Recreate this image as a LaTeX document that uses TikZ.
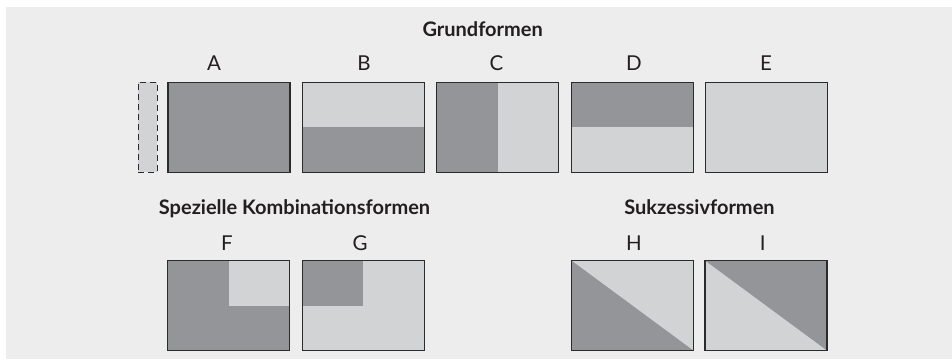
\documentclass[tikz,border=0pt]{standalone}
\usepackage{fontspec}
\setmainfont{Lato}
\definecolor{dk}{HTML}{939598}
\definecolor{lt}{HTML}{D1D3D4}
\definecolor{bg}{HTML}{EDEDED}
\definecolor{ln}{HTML}{2B2B2B}
\definecolor{tx}{HTML}{231F20}
\begin{document}
\begin{tikzpicture}[x=1pt,y=-1pt,
  box/.style={draw=ln, line width=1.3pt, minimum width=122pt, minimum height=90pt, inner sep=0pt, outer sep=0pt},
  lbl/.style={font=\fontsize{20.5}{24}\selectfont, anchor=base, text=tx, inner sep=0pt},
  ttl/.style={font=\bfseries\fontsize{20}{24}\selectfont, anchor=base, text=tx, inner sep=0pt},
  pp/.style={path picture={#1}}]
\useasboundingbox (0,0) rectangle (952,359);
\fill[white] (0,0) rectangle (952,359);
\fill[bg] (6,7) rectangle (952,359);
% titles
\node[ttl] (t1) at (482.7,36) {Grundformen};
\node[ttl] (t2) at (294.5,214) {Spezielle Kombinationsformen};
\node[ttl] (t3) at (699.5,214) {Sukzessivformen};
% top row
\node[box, minimum width=19pt, fill=lt, dash pattern=on 6pt off 4pt] (S) at (147.8,127.4) {};
\node[box, fill=dk] (A) at (228.9,127.4) {};
\node[box, fill=lt, pp={\fill[dk] (path picture bounding box.west) rectangle (path picture bounding box.south east);}] (B) at (363.5,127.4) {};
\node[box, fill=lt, pp={\fill[dk] (path picture bounding box.north west) rectangle (path picture bounding box.south);}] (C) at (497.5,127.4) {};
\node[box, fill=lt, pp={\fill[dk] (path picture bounding box.north west) rectangle (path picture bounding box.east);}] (D) at (632.5,127.4) {};
\node[box, fill=lt] (E) at (766.2,127.4) {};
\node[lbl] (lA) at (214,70.7) {A};
\node[lbl] (lB) at (364,70.7) {B};
\node[lbl] (lC) at (496.5,70.7) {C};
\node[lbl] (lD) at (634,70.7) {D};
\node[lbl] (lE) at (766,70.7) {E};
% bottom row
\node[box, fill=dk, pp={\fill[lt] (path picture bounding box.north) rectangle (path picture bounding box.east);}] (F) at (228.7,305.5) {};
\node[box, fill=lt, pp={\fill[dk] (path picture bounding box.north west) rectangle (path picture bounding box.center);}] (G) at (363.3,305.5) {};
\node[box, fill=lt, pp={\fill[dk] (path picture bounding box.north west) -- (path picture bounding box.south east) -- (path picture bounding box.south west) -- cycle;}] (H) at (632.3,305.5) {};
\node[box, fill=lt, pp={\fill[dk] (path picture bounding box.north west) -- (path picture bounding box.south east) -- (path picture bounding box.north east) -- cycle;}] (I) at (766,305.5) {};
\node[lbl] (lF) at (227,250) {F};
\node[lbl] (lG) at (360,250) {G};
\node[lbl] (lH) at (634,250) {H};
\node[lbl] (lI) at (762.7,250) {I};
\end{tikzpicture}
\end{document}
